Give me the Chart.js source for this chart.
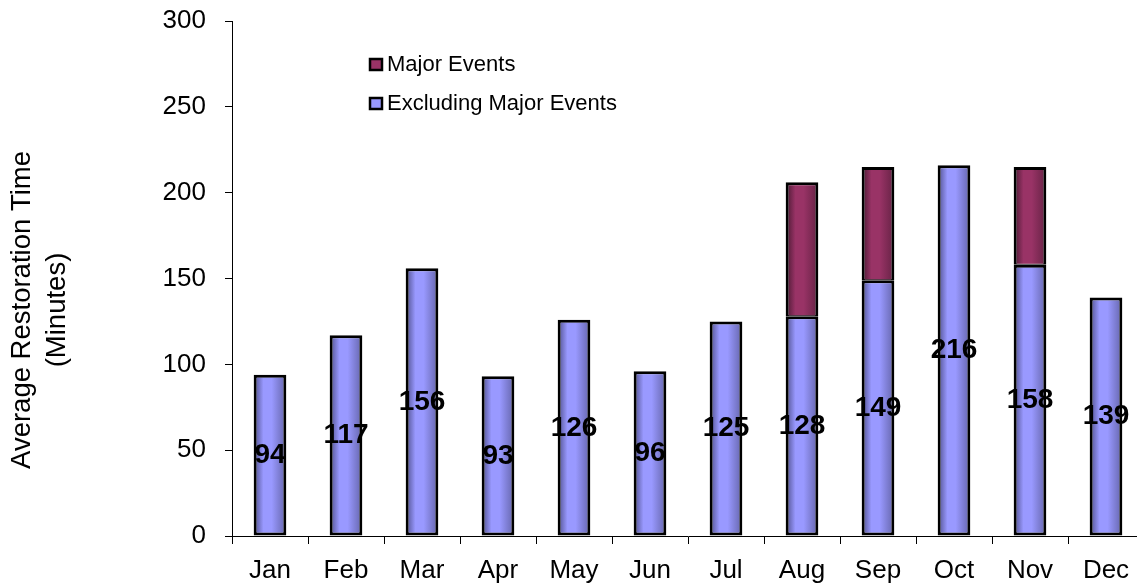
<!DOCTYPE html>
<html>
<head>
<meta charset="utf-8">
<script src="https://cdn.jsdelivr.net/npm/chart.js@4/dist/chart.umd.min.js"></script>
<style>
    html, body { margin: 0; padding: 0; background: #fff; overflow: hidden; }
    #wrap { position: relative; width: 1144px; height: 587px; }
</style>
</head>
<body>
<div id="wrap"><canvas id="restoreChart"></canvas></div>
<script>
const months = ['Jan', 'Feb', 'Mar', 'Apr', 'May', 'Jun', 'Jul', 'Aug', 'Sep', 'Oct', 'Nov', 'Dec'];
const excludingMajor = [94, 117, 156, 93, 126, 96, 125, 128, 149, 216, 158, 139];
const majorEvents = [null, null, null, null, null, null, null, 78, 66, null, 57, null];
const yTicks = [0, 50, 100, 150, 200, 250, 300];
const axisTitle = ['Average Restoration Time', '(Minutes)'];

const FONT = 'Arial, "Liberation Sans", sans-serif';
const BAR_PCT = 0.43;

// horizontal shading across each bar, like the old office charts
function barFill(stops) {
    return function (c) {
        const chart = c.chart;
        const xs = chart.scales.x;
        if (!xs || c.dataIndex === undefined) return stops[2];
        const cx = xs.getPixelForValue(c.dataIndex);
        const w = (xs.width / months.length) * BAR_PCT;
        if (!Number.isFinite(cx) || !Number.isFinite(w) || w <= 0) return stops[2];
        const g = chart.ctx.createLinearGradient(cx - w / 2, 0, cx + w / 2, 0);
        g.addColorStop(0, stops[0]);
        g.addColorStop(0.3, stops[1]);
        g.addColorStop(0.55, stops[2]);
        g.addColorStop(1, stops[3]);
        return g;
    };
}

const blueStops = ['#4c4c88', '#9999ff', '#9999ff', '#6464aa'];
const maroonStops = ['#461830', '#993366', '#993366', '#652244'];

const valueLabels = {
    id: 'valueLabels',
    afterDatasetsDraw(chart) {
        const ctx = chart.ctx;
        const ys = chart.scales.y;
        const meta = chart.getDatasetMeta(0);
        ctx.save();
        ctx.font = 'bold 28px ' + FONT;
        ctx.fillStyle = '#000';
        ctx.textAlign = 'center';
        ctx.textBaseline = 'middle';
        meta.data.forEach((bar, i) => {
            const v = excludingMajor[i];
            ctx.fillText(String(v), bar.x, ys.getPixelForValue(v / 2));
        });
        ctx.restore();
    }
};

const sideText = {
    id: 'sideText',
    afterDraw(chart) {
        const ctx = chart.ctx;
        ctx.save();
        // axis title
        ctx.fillStyle = '#000';
        ctx.font = '27.5px ' + FONT;
        ctx.textAlign = 'center';
        ctx.textBaseline = 'middle';
        ctx.translate(22, 310);
        ctx.rotate(-Math.PI / 2);
        ctx.fillText(axisTitle[0], 0, 0);
        ctx.fillText(axisTitle[1], 0, 35);
        ctx.restore();

        // legend
        ctx.save();
        const rows = [
            { text: chart.data.datasets[1].label, color: '#993366', y: 64 },
            { text: chart.data.datasets[0].label, color: '#9999ff', y: 103 }
        ];
        ctx.font = '22px ' + FONT;
        ctx.textBaseline = 'middle';
        rows.forEach(r => {
            ctx.fillStyle = r.color;
            ctx.fillRect(370, r.y - 5, 12, 11);
            ctx.strokeStyle = '#000';
            ctx.lineWidth = 2.5;
            ctx.strokeRect(370, r.y - 5, 12, 11);
            ctx.fillStyle = '#000';
            ctx.fillText(r.text, 387, r.y + 1);
        });
        ctx.restore();
    }
};

new Chart(document.getElementById('restoreChart'), {
    type: 'bar',
    data: {
        labels: months,
        datasets: [
            {
                label: 'Excluding Major Events',
                data: excludingMajor,
                backgroundColor: barFill(blueStops),
                borderColor: '#000',
                borderWidth: 3,
                borderSkipped: false,
                inflateAmount: 0,
                barPercentage: BAR_PCT,
                categoryPercentage: 1
            },
            {
                label: 'Major Events',
                data: majorEvents,
                backgroundColor: barFill(maroonStops),
                borderColor: '#000',
                borderWidth: { top: 3, left: 3, right: 3, bottom: 1 },
                borderSkipped: false,
                inflateAmount: 0,
                barPercentage: BAR_PCT,
                categoryPercentage: 1
            }
        ]
    },
    options: {
        responsive: true,
        maintainAspectRatio: false,
        animation: false,
        layout: { padding: { top: 21, right: 0, left: 0, bottom: 0 } },
        plugins: {
            legend: { display: false },
            tooltip: { enabled: false }
        },
        scales: {
            x: {
                stacked: true,
                border: { display: true, color: '#000', width: 1 },
                grid: { drawOnChartArea: false, color: '#000', tickLength: 8 },
                ticks: { color: '#000', font: { family: FONT, size: 26 }, padding: 11 },
                afterFit(scale) { scale.height = 51; }
            },
            y: {
                stacked: true,
                min: yTicks[0],
                max: yTicks[yTicks.length - 1],
                border: { display: true, color: '#000', width: 1 },
                grid: { drawOnChartArea: false, color: '#000', tickLength: 7 },
                afterBuildTicks(scale) {
                    scale.ticks = yTicks.map(v => ({ value: v }));
                },
                ticks: { color: '#000', font: { family: FONT, size: 26 }, padding: 19 },
                afterFit(scale) {
                    scale.width = 232;
                    scale.paddingTop = 0;
                    scale.paddingBottom = 0;
                }
            }
        }
    },
    plugins: [valueLabels, sideText]
});
</script>
</body>
</html>
